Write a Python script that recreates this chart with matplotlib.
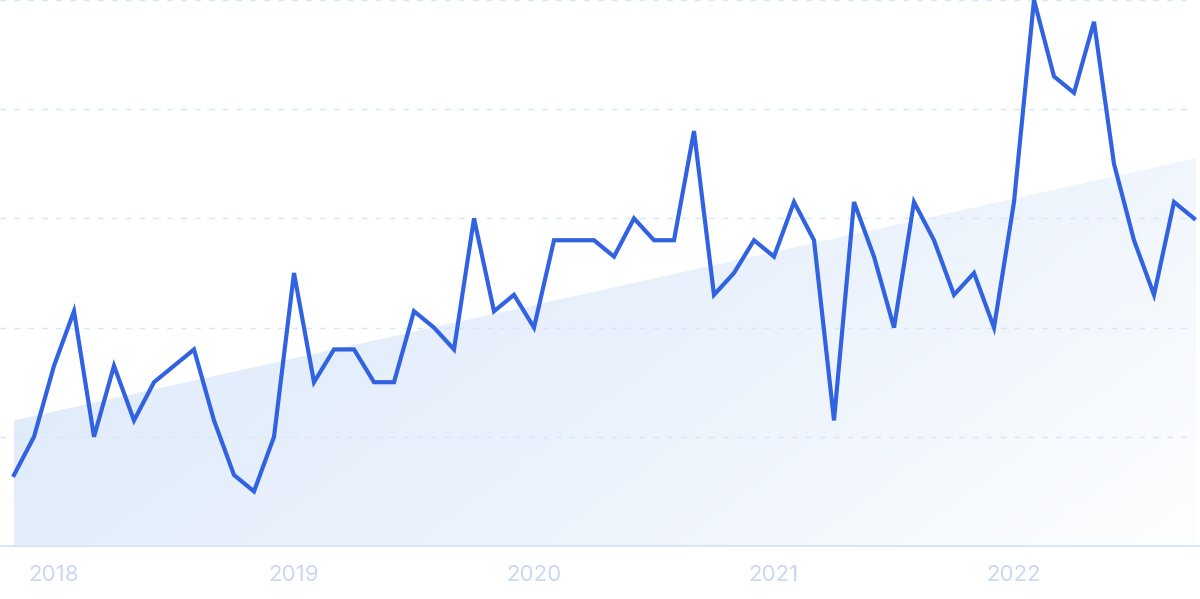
import numpy as np
import matplotlib
matplotlib.use("Agg")
import matplotlib.pyplot as plt
from matplotlib.colors import LinearSegmentedColormap

# monthly interest, Nov 2017 .. Oct 2022
values = [13, 20, 33, 43, 20, 33, 23, 30, 33, 36, 23, 13, 10, 20, 50, 30,
          36, 36, 30, 30, 43, 40, 36, 60, 43, 46, 40, 56, 56, 56, 53, 60,
          56, 56, 76, 46, 50, 56, 53, 63, 56, 23, 63, 53, 40, 63, 56, 46,
          50, 40, 63, 100, 86, 83, 96, 70, 56, 46, 63, 60]
years = ["2018", "2019", "2020", "2021", "2022"]
year_idx = [2, 14, 26, 38, 50]
trend_start, trend_end = 23, 71

x = np.arange(len(values))

fig = plt.figure(figsize=(12, 5.99), dpi=100)
ax = fig.add_axes([0, 53 / 599, 1, 546 / 599])
ax.set_xlim(-0.7, 59.3)
ax.set_ylim(0, 100)
for s in ax.spines.values():
    s.set_visible(False)
ax.set_yticks([])
ax.tick_params(axis="x", length=0, pad=14, labelsize=16, labelcolor="#c9d7f4")
ax.set_xticks(year_idx)
ax.set_xticklabels(years, family=["Inter", "DejaVu Sans"])

# dashed grid
for g in [20, 40, 60, 80, 100]:
    ax.axhline(g, xmax=1188 / 1200, color="#d6e6fd", lw=1.0,
               dashes=(4.2, 5.8), zorder=1, clip_on=False)
ax.axhline(0, color="#dae5f8", lw=1.4, zorder=2, clip_on=False)

# trend area with gradient
xt = np.array([0, len(values) - 0.9])
yt = np.array([trend_start, trend_end])
poly = ax.fill_between(xt, 0, yt, color="none", lw=0)
cmap = LinearSegmentedColormap.from_list("g", ["#dce9fa", "#e9f1fc", "#fdfeff"])
gx, gy = np.meshgrid(np.linspace(0, 1, 300), np.linspace(0, 1, 200))
grad = 0.8 * gx + 0.35 * gy
img = ax.imshow(grad, extent=[xt[0], xt[1], 0, trend_end], origin="upper",
                cmap=cmap, aspect="auto", zorder=0, vmin=0, vmax=1.15)
img.set_clip_path(poly.get_paths()[0], transform=ax.transData)

ax.plot(x, values, color="#3062e2", lw=3.0, solid_joinstyle="miter",
        zorder=3, clip_on=True)

fig.savefig("out.png", dpi=100)
